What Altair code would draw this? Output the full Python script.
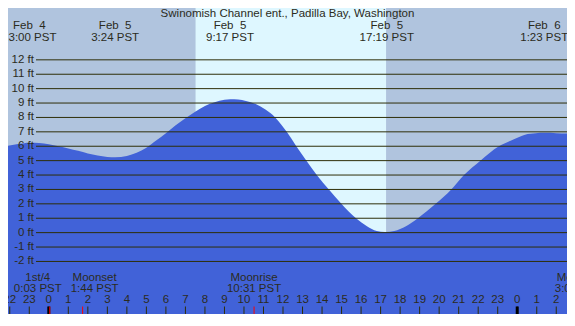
import altair as alt
import pandas as pd

# ---------------- data ----------------
TITLE = "Swinomish Channel ent., Padilla Bay, Washington"

# tide height (ft) vs hours since Feb 5 00:00 PST
tide_hours = [-2.09, -1.5, -1.0, -0.5, 0.0, 0.5, 1.0, 1.5, 2.0, 2.5, 3.0, 3.4,
              4.0, 4.5, 5.0, 5.5, 6.0, 6.5, 7.0, 7.5, 8.0, 8.5, 9.0, 9.3, 9.7,
              10.1, 10.6, 11.1, 11.6, 12.19, 12.68, 13.2, 13.73, 14.35, 14.99,
              15.74, 16.3, 16.8, 17.23, 17.7, 18.3, 18.91, 19.82, 20.62, 21.27,
              22.11, 23.06, 23.8, 24.4, 24.95, 25.4, 26.0, 26.55]
tide_ft = [6.04, 6.17, 6.25, 6.22, 6.13, 6.0, 5.85, 5.68, 5.5, 5.36, 5.26, 5.23,
           5.33, 5.55, 5.9, 6.4, 6.9, 7.45, 7.95, 8.4, 8.8, 9.05, 9.22, 9.27, 9.24,
           9.14, 8.93, 8.55, 8.0, 7.0, 6.0, 5.0, 4.0, 3.0, 2.0,
           1.0, 0.45, 0.12, 0.05, 0.12, 0.45, 1.0, 2.0, 3.0, 4.0,
           5.0, 6.0, 6.47, 6.8, 6.9, 6.93, 6.91, 6.88]

day_start = [7.52]
day_end = [17.28]

extreme_hours = [-1.0, 3.4, 9.283, 17.317, 25.383]
extreme_dates = ["Feb\u00a0 4", "Feb\u00a0 5", "Feb\u00a0 5", "Feb\u00a0 5", "Feb\u00a0 6"]
extreme_times = ["23:00 PST", "3:24 PST", "9:17 PST", "17:19 PST", "1:23 PST"]

moon_hours = [0.05, 1.733, 10.517, 27.15]
moon_names = ["1st/4", "Moonset", "Moonrise", "Moonset"]
moon_times = ["0:03 PST", "1:44 PST", "10:31 PST", "3:09 PST"]

ft_levels = list(range(-2, 13))
hour_ticks = list(range(-2, 27))

# ---------------- styling ----------------
W, H = 559, 306
NIGHT = "#B0C4DE"
DAY = "#DEF7FF"
WATER = "#4162D8"
LINE = "#2e2e08"
TXT = "#2b2b1c"
FONT = "Liberation Sans"
FS = 11.5

xs = alt.Scale(domain=[-2.09, 26.55], nice=False, zero=False)
ys = alt.Scale(domain=[-5.65, 15.6], nice=False, zero=False)

tide_df = pd.DataFrame({"hour": tide_hours, "ft": tide_ft})
day_df = pd.DataFrame({"start": day_start, "end": day_end})
ext_df = pd.DataFrame({"hour": extreme_hours, "date": extreme_dates, "time": extreme_times})
ft_df = pd.DataFrame({"ft": ft_levels, "label": [f"{v} ft" for v in ft_levels]})
hr_df = pd.DataFrame({"hour": hour_ticks, "label": [str(h % 24) for h in hour_ticks]})
mid_df = pd.DataFrame({"hour": [h for h in hour_ticks if h % 24 == 0]})
moon_df = pd.DataFrame({"hour": moon_hours, "name": moon_names, "time": moon_times})

X = lambda f: alt.X(f, type="quantitative", scale=xs, axis=None)
Y = lambda f: alt.Y(f, type="quantitative", scale=ys, axis=None, stack=None)

day = alt.Chart(day_df).mark_rect(color=DAY).encode(
    x=X("start"), x2="end", y=alt.value(0), y2=alt.value(H))

area = alt.Chart(tide_df).mark_area(color=WATER, interpolate="monotone", clip=True).encode(
    x=X("hour"), y=Y("ft"), y2=alt.value(H))

lines = alt.Chart(ft_df).mark_rule(color=LINE, strokeWidth=1).encode(
    y=Y("ft"), x=alt.value(28), x2=alt.value(W))

ft_labels = alt.Chart(ft_df).mark_text(align="right", baseline="middle", font=FONT,
                                       fontSize=FS, color=TXT).encode(
    y=Y("ft"), x=alt.value(26), text="label")

title = alt.Chart(pd.DataFrame({"t": [TITLE]})).mark_text(
    align="center", baseline="middle", font=FONT, fontSize=FS, color=TXT).encode(
    x=alt.value(W / 2), y=alt.value(6), text="t")

ext_date = alt.Chart(ext_df).mark_text(baseline="middle", font=FONT, fontSize=FS, color=TXT).encode(
    x=X("hour"), y=alt.value(18), text="date")
ext_time = alt.Chart(ext_df).mark_text(baseline="middle", font=FONT, fontSize=FS, color=TXT).encode(
    x=X("hour"), y=alt.value(30), text="time")

moon_dx = [-12, 12, 0, 0]
moon_layers = []
for i in range(len(moon_hours)):
    sub = moon_df.iloc[[i]]
    moon_layers.append(alt.Chart(sub).mark_text(baseline="middle", font=FONT, fontSize=FS,
                                                color=TXT, dx=moon_dx[i]).encode(
        x=X("hour"), y=alt.value(269.6), text="name"))
    moon_layers.append(alt.Chart(sub).mark_text(baseline="middle", font=FONT, fontSize=FS,
                                                color=TXT, dx=moon_dx[i]).encode(
        x=X("hour"), y=alt.value(281.4), text="time"))

hr_labels = alt.Chart(hr_df).mark_text(baseline="middle", font=FONT, fontSize=FS, color=TXT).encode(
    x=X("hour"), y=alt.value(292.4), text="label")

ticks = alt.Chart(hr_df).mark_rule(color=LINE, strokeWidth=1).encode(
    x=X("hour"), y=alt.value(298.5), y2=alt.value(H))
mid_ticks = alt.Chart(mid_df).mark_rule(color="#000000", strokeWidth=3).encode(
    x=X("hour"), y=alt.value(298.5), y2=alt.value(H))
moon_ticks = alt.Chart(moon_df).mark_rule(color="#ff0000", strokeWidth=1).encode(
    x=X("hour"), y=alt.value(298.5), y2=alt.value(H))

chart = alt.layer(
    day, area, lines, ft_labels, title, ext_date, ext_time, *moon_layers,
    hr_labels, ticks, mid_ticks, moon_ticks
).properties(
    width=W, height=H, padding=0, autosize=alt.AutoSizeParams(type="none")
).configure_view(fill=NIGHT, stroke=None)

chart.save("out.html", embed_options={"renderer": "svg", "actions": False})
